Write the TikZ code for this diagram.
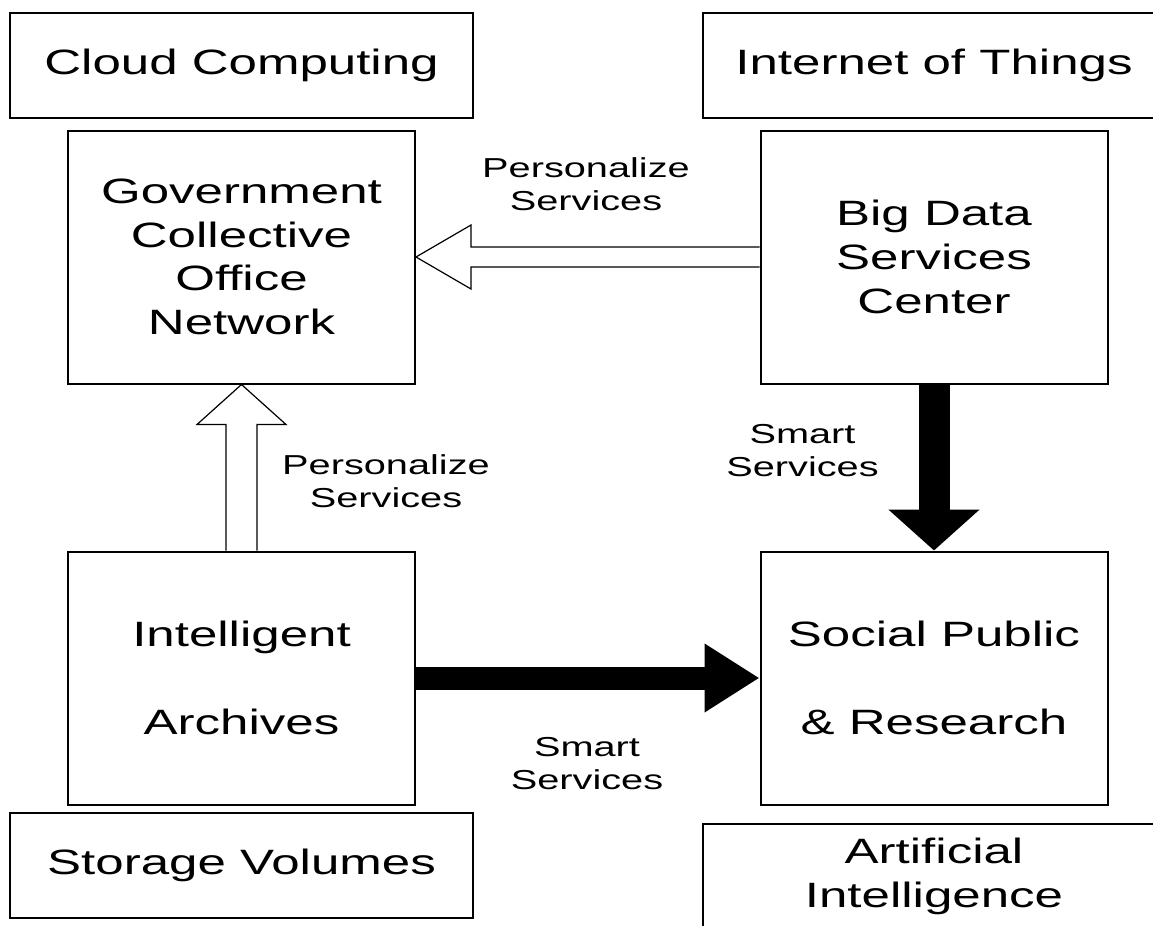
\documentclass[tikz,border=0pt]{standalone}
\usepackage{fontspec}
\setmainfont{Liberation Sans}[FakeStretch=1.45]
\usetikzlibrary{calc,arrows.meta}

\begin{document}
\begin{tikzpicture}[x=0.5pt,y=-0.5pt]
% picture frame (the outer boxes run past it)
\useasboundingbox (0,0) rectangle (1153,926);
\clip (0,0) rectangle (1153,926);
% node style definition
\tikzstyle{block} = [
	draw, line width=1pt, rectangle, inner sep=0pt, align=center,
	font=\fontsize{17.6}{21.8}\selectfont,
	minimum width=173.5pt, minimum height=126.5pt ];
\tikzstyle{tag} = [block, minimum width=231.5pt, minimum height=52.5pt];
\tikzstyle{plain} = [draw=none, align=center, font=\fontsize{13.7}{16.5}\selectfont];
\tikzstyle{hollow} = [draw, line width=0.6pt, fill=white, line join=miter];
\tikzstyle{fatarrow} = [draw, black];

% outer tags
\node[tag] (cloud) at (241.5,65.5) {Cloud Computing};
\node[tag] (iot) at (934,65.5) {Internet of Things};
\node[tag] (storage) at (241.5,865.5) {Storage Volumes};
\node[tag] (ai) at (934,876.5) {Artificial\\Intelligence};

% main blocks
\node[block] (gov) at (241.5,257) {Government\\Collective\\Office\\Network};
\node[block] (bigdata) at (934,257) {Big Data\\Services\\Center};
\node[block] (archives) at (241.5,678) {Intelligent\\[21.8pt]Archives};
\node[block] (social) at (934,678) {Social Public\\[21.8pt]\& Research};

% hollow arrows
\draw[hollow] ($(bigdata.west)+(0,-10)$) -- ($(gov.east)+(55,-10)$) -- ++(0,-22)
	-- (gov.east) -- ($(gov.east)+(55,32)$) -- ++(0,-22) -- ($(bigdata.west)+(0,10)$);
\draw[hollow] ($(archives.north)+(-15.5,0)$) -- ($(gov.south)+(-15.5,40)$) -- ++(-29,0)
	-- (gov.south) -- ($(gov.south)+(44.5,40)$) -- ++(-29,0) -- ($(archives.north)+(15.5,0)$);

% filled arrows
\draw[fatarrow, line width=15.5pt, -{Triangle[length=20.5pt,width=44.5pt]}] (bigdata) -- (social);
\draw[fatarrow, line width=11.5pt, -{Triangle[length=27.5pt,width=32.5pt]}] (archives) -- (social);

% arrow labels
\node[plain] (pers1) at (586,184.5) {Personalize\\Services};
\node[plain] (pers2) at (386,481.5) {Personalize\\Services};
\node[plain] (smart1) at (802.5,450.5) {Smart\\Services};
\node[plain] (smart2) at (587,764) {Smart\\Services};

\end{tikzpicture}
\end{document}
